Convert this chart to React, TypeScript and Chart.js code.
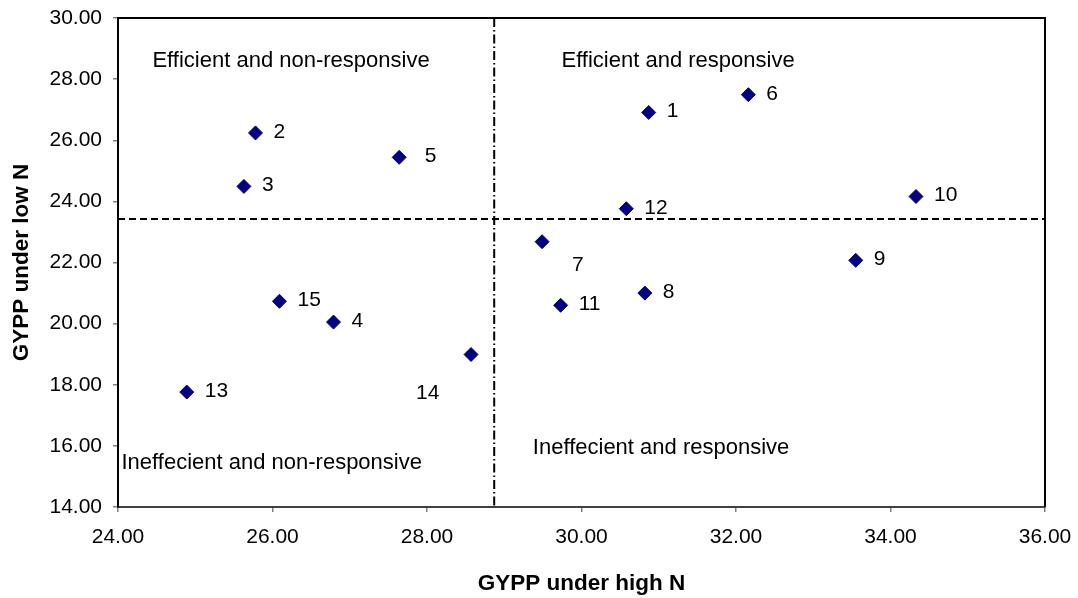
import React, { useEffect, useRef } from "react";
import { Chart, registerables } from "chart.js";

Chart.register(...registerables);

// ---- data ----
const genotypeLabels = ["1", "2", "3", "4", "5", "6", "7", "8", "9", "10", "11", "12", "13", "14", "15"];
const gyppHighN = [30.87, 25.78, 25.63, 26.79, 27.64, 32.16, 29.49, 30.82, 33.55, 34.33, 29.73, 30.58, 24.89, 28.57, 26.09];
const gyppLowN = [26.91, 26.24, 24.49, 20.05, 25.44, 27.49, 22.68, 21.0, 22.07, 24.16, 20.6, 23.76, 17.76, 18.99, 20.73];

const highNMean = 28.87;
const lowNMean = 23.42;

const quadrantNames = [
  "Efficient and non-responsive",
  "Efficient and responsive",
  "Ineffecient and non-responsive",
  "Ineffecient and responsive",
];
const quadrantX = [26.24, 31.25, 25.99, 31.03];
const quadrantY = [28.6, 28.6, 15.44, 15.93];

const xMin = 24;
const xMax = 36;
const yMin = 14;
const yMax = 30;
const tickStep = 2;

const xTitle = "GYPP under high N";
const yTitle = "GYPP under low N";

// ---- styles ----
const FONT = '"Liberation Sans", Arial, Helvetica, sans-serif';
const NAVY = "#000080";
const defaultLabelOffset: [number, number] = [18, -1];
const labelOffsets: Record<string, [number, number]> = {
  "5": [25.5, -1],
  "7": [30, 23.5],
  "14": [-55, 38.5],
};

const overlayPlugin = {
  id: "overlay",
  beforeDatasetsDraw(chart: any) {
    const { ctx, chartArea, scales } = chart;
    const yPix = scales.y.getPixelForValue(lowNMean);
    const xPix = scales.x.getPixelForValue(highNMean);
    ctx.save();
    ctx.strokeStyle = "#000";
    ctx.lineWidth = 2;
    ctx.setLineDash([7, 4]);
    ctx.beginPath();
    ctx.moveTo(chartArea.left, yPix);
    ctx.lineTo(chartArea.right, yPix);
    ctx.stroke();
    ctx.setLineDash([9, 3, 1.5, 3]);
    ctx.beginPath();
    ctx.moveTo(xPix, chartArea.top);
    ctx.lineTo(xPix, chartArea.bottom);
    ctx.stroke();
    ctx.restore();
  },
  afterDatasetsDraw(chart: any) {
    const { ctx, scales, chartArea } = chart;
    ctx.save();
    // plot frame top & right
    ctx.strokeStyle = "#000";
    ctx.lineWidth = 2;
    ctx.setLineDash([]);
    ctx.beginPath();
    ctx.moveTo(chartArea.left, chartArea.top);
    ctx.lineTo(chartArea.right, chartArea.top);
    ctx.lineTo(chartArea.right, chartArea.bottom);
    ctx.stroke();

    // point labels
    ctx.fillStyle = "#000";
    ctx.font = `21px ${FONT}`;
    ctx.textBaseline = "middle";
    ctx.textAlign = "left";
    const meta = chart.getDatasetMeta(0);
    meta.data.forEach((el: any, i: number) => {
      const lbl = genotypeLabels[i];
      const [dx, dy] = labelOffsets[lbl] || defaultLabelOffset;
      ctx.fillText(lbl, el.x + dx, el.y + dy);
    });

    // quadrant names
    ctx.font = `22px ${FONT}`;
    ctx.textAlign = "center";
    quadrantNames.forEach((name, i) => {
      ctx.fillText(name, scales.x.getPixelForValue(quadrantX[i]), scales.y.getPixelForValue(quadrantY[i]));
    });
    ctx.restore();
  },
};

export default function App() {
  const canvasRef = useRef<HTMLCanvasElement | null>(null);

  useEffect(() => {
    if (!canvasRef.current) return;
    const chart = new Chart(canvasRef.current, {
      type: "scatter",
      data: {
        datasets: [
          {
            label: "GYPP",
            data: gyppHighN.map((x, i) => ({ x, y: gyppLowN[i] })),
            pointStyle: "rectRot",
            pointRadius: 7,
            pointHoverRadius: 7,
            backgroundColor: NAVY,
            borderColor: NAVY,
            borderWidth: 1,
            showLine: false,
          },
        ],
      },
      options: {
        responsive: false,
        animation: false,
        devicePixelRatio: 1,
        layout: { padding: { top: 18, right: 33, left: 0, bottom: 0 } },
        plugins: {
          legend: { display: false },
          tooltip: { enabled: false },
        },
        events: [],
        scales: {
          x: {
            type: "linear",
            min: xMin,
            max: xMax,
            ticks: {
              stepSize: tickStep,
              color: "#000",
              font: { family: FONT, size: 21 },
              padding: 13,
              maxRotation: 0,
              callback: (v: any) => Number(v).toFixed(2),
            },
            grid: {
              display: true,
              drawOnChartArea: false,
              drawTicks: true,
              tickLength: 5,
              color: "#808080",
              lineWidth: 1.5,
            },
            border: { display: true, color: "#404040", width: 2 },
            title: {
              display: true,
              text: xTitle,
              color: "#000",
              font: { family: FONT, size: 22.5, weight: "bold" },
              padding: { top: 0, bottom: 1 },
            },
            afterFit: (scale: any) => {
              scale.height = 91;
              scale.paddingLeft = 0;
              scale.paddingRight = 0;
            },
          },
          y: {
            type: "linear",
            min: yMin,
            max: yMax,
            ticks: {
              stepSize: tickStep,
              color: "#000",
              font: { family: FONT, size: 21 },
              padding: 11,
              callback: (v: any) => Number(v).toFixed(2),
            },
            grid: {
              display: true,
              drawOnChartArea: false,
              drawTicks: true,
              tickLength: 5,
              color: "#808080",
              lineWidth: 1.5,
            },
            border: { display: true, color: "#000", width: 2 },
            title: {
              display: true,
              text: yTitle,
              color: "#000",
              font: { family: FONT, size: 22.5, weight: "bold" },
              padding: { top: 8, bottom: 0 },
            },
            afterFit: (scale: any) => {
              scale.width = 118;
              scale.paddingTop = 0;
              scale.paddingBottom = 0;
            },
          },
        },
      },
      plugins: [overlayPlugin],
    });
    return () => chart.destroy();
  }, []);

  return (
    <div style={{ position: "fixed", left: 0, top: 0, width: 1078, height: 598, background: "#fff" }}>
      <canvas ref={canvasRef} width={1078} height={598} style={{ width: 1078, height: 598, display: "block" }} />
    </div>
  );
}
